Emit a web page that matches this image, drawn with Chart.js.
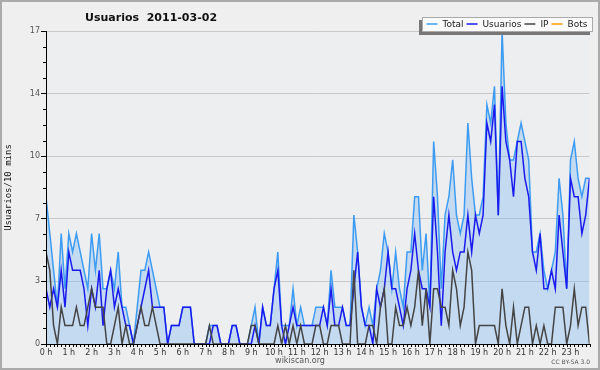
<!DOCTYPE html>
<html lang="es">
<head>
    <meta charset="UTF-8">
    <title>Usuarios 2011-03-02</title>
    <script src="https://cdn.jsdelivr.net/npm/chart.js"></script>
    <style>
        body { margin: 0; background: #fff; }
    </style>
</head>
<body>
    <canvas id="grafico" width="600" height="370"></canvas>

    <script>
        const titulo = 'Usuarios  2011-03-02'
        const tituloEjeY = 'Usuarios/10 mins'
        const credito = 'wikiscan.org'
        const licencia = 'CC BY-SA 3.0'

        const horas = ['0 h','1 h','2 h','3 h','4 h','5 h','6 h','7 h','8 h','9 h','10 h','11 h',
                       '12 h','13 h','14 h','15 h','16 h','17 h','18 h','19 h','20 h','21 h','22 h','23 h']

        const yTicks = [0, 3.4, 6.8, 10.2, 13.6, 17]
        const yLabels = ['0', '3', '7', '10', '14', '17']

        // un valor cada 10 minutos
        const total = [
            8,6,4,2,6,3,6,5,6,5,4,3,6,4,6,3,3,4,3,5,2,2,1,0,
            2,4,4,5,4,3,2,2,0,1,1,1,2,2,2,0,0,0,0,1,1,1,0,0,
            0,1,1,0,0,0,1,2,0,2,1,1,3,5,1,1,1,3,1,2,1,1,1,2,
            2,2,1,4,2,2,2,1,1,7,5,2,1,2,1,3,4,6,5,3,5,3,2,5,
            5,8,8,4,6,2,11,8,3,7,8,10,7,6,7,12,9,7,7,8,13,12,14,7,
            17,12,10,10,11,12,11,10,5,5,6,4,3,4,5,9,7,3,10,11,9,8,9,9
        ]
        const usuarios = [
            3,2,3,2,4,2,5,4,4,4,3,1,3,2,4,1,3,4,2,3,2,1,1,0,
            1,2,3,4,2,2,2,2,0,1,1,1,2,2,2,0,0,0,0,0,1,1,0,0,
            0,1,1,0,0,0,0,1,0,2,1,1,3,4,1,0,1,2,1,1,1,1,1,1,
            1,2,1,3,1,1,2,1,1,3,5,2,1,1,0,3,2,3,5,3,3,2,1,3,
            4,6,4,3,3,2,8,5,1,5,7,5,4,5,5,7,5,7,6,7,12,11,13,7,
            14,11,10,8,11,11,9,8,5,4,6,3,3,4,3,7,5,3,9,8,8,6,7,9
        ]
        const ip = [
            5,4,1,0,2,1,1,1,2,1,1,2,3,2,2,2,0,0,1,2,0,1,0,0,
            1,2,1,1,2,1,0,0,0,0,0,0,0,0,0,0,0,0,0,1,0,0,0,0,
            0,0,0,0,0,0,1,1,0,0,0,0,0,1,0,1,0,1,0,1,0,0,0,1,
            1,0,0,1,1,1,0,0,0,4,0,0,0,1,1,0,2,3,0,0,2,1,1,2,
            1,2,4,1,3,0,3,3,2,2,1,4,3,1,2,5,4,0,1,1,1,1,1,0,
            3,1,0,2,0,1,2,2,0,1,0,1,0,0,2,2,2,0,1,3,1,2,2,0
        ]
        const bots = []

        const indices = total.map((v, i) => i)

        const fondo = {
            id: 'fondo',
            beforeDraw(chart) {
                const c = chart.ctx
                const a = chart.chartArea
                c.save()
                c.fillStyle = '#efefef'
                c.fillRect(0, 0, chart.width, chart.height)
                c.fillStyle = '#edeef0'
                c.fillRect(a.left, a.top, a.right - a.left, a.bottom - a.top)
                c.restore()
            },
            afterDraw(chart) {
                const c = chart.ctx
                const xs = chart.scales.x
                const ys = chart.scales.y
                const a = chart.chartArea
                c.save()

                // rayitas menores
                c.strokeStyle = '#000'
                c.lineWidth = 1
                c.beginPath()
                indices.forEach(i => {
                    const px = Math.round(xs.getPixelForValue(i)) + 0.5
                    c.moveTo(px, a.bottom)
                    c.lineTo(px, a.bottom + 3)
                })
                const paso = (yTicks[1] - yTicks[0]) / 4
                for (let k = 0; k <= 20; k++) {
                    if (k % 4 === 0) continue
                    const py = Math.round(ys.getPixelForValue(k * paso)) + 0.5
                    c.moveTo(a.left - 3, py)
                    c.lineTo(a.left, py)
                }
                c.stroke()

                // titulo
                c.fillStyle = '#111'
                c.font = 'bold 11px "DejaVu Sans"'
                c.textAlign = 'left'
                c.textBaseline = 'alphabetic'
                c.fillText(titulo, 85, 21)

                // leyenda
                c.fillStyle = '#777'
                c.fillRect(419, 20, 171, 15)
                c.fillStyle = '#fbfbfb'
                c.fillRect(422, 17, 171, 15)
                c.strokeStyle = '#aaa'
                c.strokeRect(422.5, 17.5, 170, 14)
                c.font = '9px "DejaVu Sans"'
                c.textBaseline = 'middle'
                let x = 426.5
                chart.data.datasets.forEach(ds => {
                    c.strokeStyle = ds.borderColor
                    c.lineWidth = 1.5
                    c.beginPath()
                    c.moveTo(x, 24)
                    c.lineTo(x + 11, 24)
                    c.stroke()
                    c.fillStyle = '#222'
                    c.fillText(ds.label, x + 16, 24.5)
                    x += 16 + c.measureText(ds.label).width + 3
                })

                // creditos
                c.fillStyle = '#555'
                c.font = '8px "DejaVu Sans"'
                c.textAlign = 'center'
                c.textBaseline = 'alphabetic'
                c.fillText(credito, 300, 363)
                c.font = '6px "DejaVu Sans"'
                c.textAlign = 'right'
                c.fillText(licencia, 590, 364)

                // marco
                c.strokeStyle = '#aaa'
                c.lineWidth = 2
                c.strokeRect(1, 1, 598, 368)
                c.restore()
            }
        }

        const ctx = document.getElementById('grafico')

        const grafico = new Chart(ctx, {
            type: 'line',
            data: {
                labels: indices,
                datasets: [
                    {
                        label: 'Total',
                        data: total,
                        borderColor: '#3d9cf2',
                        backgroundColor: 'rgba(126,187,240,0.38)',
                        fill: 'origin',
                        order: 2
                    },
                    {
                        label: 'Usuarios',
                        data: usuarios,
                        borderColor: '#1a1aee',
                        fill: false,
                        order: 1
                    },
                    {
                        label: 'IP',
                        data: ip,
                        borderColor: '#444444',
                        fill: false,
                        order: 0
                    },
                    {
                        label: 'Bots',
                        data: bots,
                        borderColor: '#ff9a00',
                        fill: false,
                        order: 3
                    }
                ]
            },
            options: {
                responsive: false,
                animation: false,
                devicePixelRatio: 1,
                layout: { padding: { top: 31, right: 10.5, bottom: 0, left: 0 } },
                elements: {
                    point: { radius: 0 },
                    line: { borderWidth: 1.5, tension: 0 }
                },
                plugins: {
                    legend: { display: false },
                    title: { display: false },
                    tooltip: { enabled: false }
                },
                scales: {
                    x: {
                        type: 'linear',
                        min: 0,
                        max: indices.length - 1,
                        afterBuildTicks: s => { s.ticks = horas.map((h, i) => ({ value: i * 6 })) },
                        afterFit: s => { s.height = 26 },
                        grid: { display: false, drawTicks: false },
                        border: { display: true, color: '#000', width: 1, z: 1 },
                        ticks: {
                            callback: (v, i) => horas[i],
                            autoSkip: false,
                            maxRotation: 0,
                            padding: 4,
                            color: '#333',
                            font: { family: 'DejaVu Sans', size: 8 }
                        }
                    },
                    y: {
                        min: 0,
                        max: 17,
                        afterBuildTicks: s => { s.ticks = yTicks.map(v => ({ value: v })) },
                        afterFit: s => { s.width = 46 },
                        grid: { color: '#c8c8c8', tickColor: '#000', tickLength: 5, lineWidth: 1 },
                        border: { display: true, color: '#000', width: 1, z: 1 },
                        ticks: {
                            callback: (v, i) => yLabels[i],
                            padding: 1,
                            color: '#555',
                            font: { family: 'DejaVu Sans', size: 8 }
                        },
                        title: {
                            display: true,
                            text: tituloEjeY,
                            color: '#111',
                            padding: { top: 3, bottom: 0 },
                            font: { family: 'DejaVu Sans Mono', size: 9 }
                        }
                    }
                }
            },
            plugins: [fondo]
        })
    </script>
</body>
</html>
